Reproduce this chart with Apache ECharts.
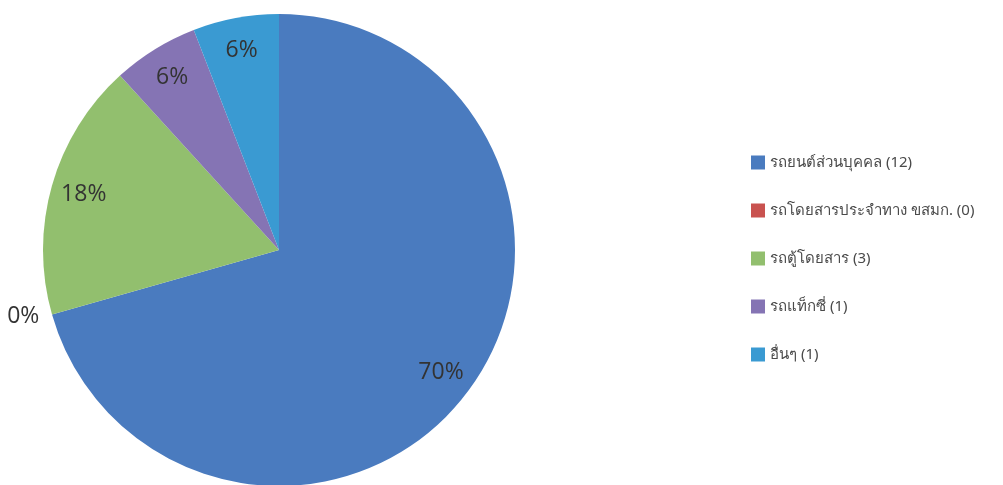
<!DOCTYPE html>
<html>
<head>
<meta charset="utf-8">
<script src="https://cdn.jsdelivr.net/npm/echarts@6/dist/echarts.min.js"></script>
<style>
html,body{margin:0;padding:0;background:#fff;}
#chart{width:1003px;height:485px;}
</style>
</head>
<body>
<div id="chart"></div>
<script>
var categories = ['รถยนต์ส่วนบุคคล', 'รถโดยสารประจำทาง ขสมก.', 'รถตู้โดยสาร', 'รถแท็กซี่', 'อื่นๆ'];
var values = [12, 0, 3, 1, 1];
var colors = ['#4a7bbf', '#c9524f', '#92bf6e', '#8574b4', '#3a9ad2'];

var chart = echarts.init(document.getElementById('chart'));
var labelFont = '"Open Sans", "Liberation Sans", sans-serif';

var mainData = categories.map(function (c, i) {
  var item = { name: c, value: values[i], itemStyle: { color: colors[i] } };
  if (values[i] === 0) {
    item.label = { show: true, position: 'outside', formatter: '{d}%', fontSize: 23, color: '#333', fontFamily: labelFont };
    item.labelLine = { show: false, length: 8, length2: 0 };
  }
  return item;
});
var overlayData = categories.map(function (c, i) {
  return { name: '', value: values[i], label: { show: values[i] > 0 } };
});

chart.setOption({
  backgroundColor: '#ffffff',
  animation: false,
  legend: {
    orient: 'vertical',
    left: 746,
    top: 150,
    itemWidth: 14,
    itemHeight: 14,
    itemGap: 33,
    icon: 'rect',
    data: categories.slice(),
    formatter: function (name) {
      var i = categories.indexOf(name);
      return name + ' (' + values[i] + ')';
    },
    textStyle: { fontSize: 15, color: '#4a4a4a', fontFamily: '"Noto Sans", "DejaVu Sans", sans-serif' }
  },
  series: [
    {
      type: 'pie',
      center: [279, 250],
      radius: [0, 236],
      startAngle: 90,
      clockwise: true,
      percentPrecision: 0,
      avoidLabelOverlap: false,
      label: { show: false },
      labelLine: { show: false },
      emphasis: { disabled: true },
      data: mainData
    },
    {
      type: 'pie',
      center: [279, 250],
      radius: [164, 236],
      startAngle: 90,
      clockwise: true,
      percentPrecision: 0,
      silent: true,
      itemStyle: { color: 'rgba(0,0,0,0)' },
      label: { show: true, position: 'inside', formatter: '{d}%', fontSize: 23, color: '#333', fontFamily: labelFont },
      labelLine: { show: false },
      emphasis: { disabled: true },
      data: overlayData
    }
  ]
});
</script>
</body>
</html>
